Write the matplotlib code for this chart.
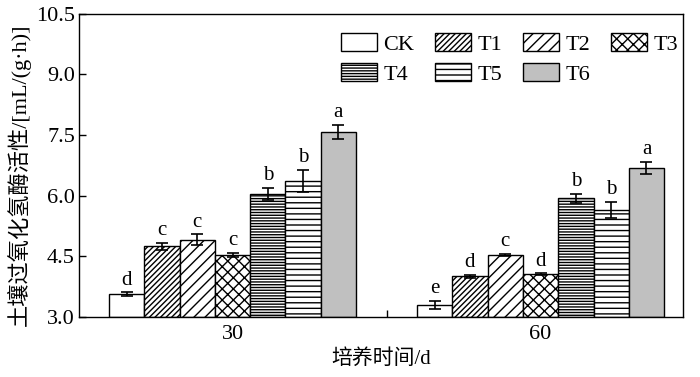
import matplotlib.pyplot as plt
import numpy as np

plt.rcParams['font.family'] = ['Liberation Serif', 'Noto Sans CJK SC']
plt.rcParams['hatch.linewidth'] = 1.0

days = ['30', '60']
treatments = ['CK', 'T1', 'T2', 'T3', 'T4', 'T5', 'T6']
vals_30 = [3.55, 4.74, 4.91, 4.53, 6.04, 6.37, 7.57]
err_30 = [0.05, 0.09, 0.13, 0.04, 0.15, 0.27, 0.18]
let_30 = ['d', 'c', 'c', 'c', 'b', 'b', 'a']
vals_60 = [3.30, 4.00, 4.53, 4.05, 5.93, 5.64, 6.68]
err_60 = [0.10, 0.03, 0.03, 0.02, 0.12, 0.20, 0.15]
let_60 = ['e', 'd', 'c', 'd', 'b', 'b', 'a']

hatches = ['', '//////', '///', 'xxx', '------', '---', '']
fills = ['white', 'white', 'white', 'white', 'white', 'white', '#c0c0c0']

fig, ax = plt.subplots(figsize=(7, 3.77), dpi=100)
fig.subplots_adjust(left=0.113, right=0.976, top=0.963, bottom=0.16)

w = 0.1146
x = np.arange(len(days))
bars = []
for i, t in enumerate(treatments):
    pos = x + (i - 3) * w
    v = [vals_30[i], vals_60[i]]
    e = [err_30[i], err_60[i]]
    b = ax.bar(pos, np.array(v) - 3.0, w, bottom=3.0, color=fills[i], edgecolor='black',
               hatch=hatches[i], linewidth=1.0, label=t, zorder=2)
    bars.append(b)
    ax.errorbar(pos, v, yerr=e, fmt='none', ecolor='black', elinewidth=1.2,
                capsize=4, capthick=1.2, zorder=3)
    for p, val, er, lt in zip(pos, v, e, [let_30[i], let_60[i]]):
        ax.text(p, val + er + 0.07, lt, ha='center', va='bottom', fontsize=15)

ax.set_ylim(3.0, 10.5)
yt = np.arange(3.0, 10.6, 1.5)
ax.set_yticks(yt)
ax.set_yticklabels(['%.1f' % t for t in yt])
ax.set_xlim(-0.498, 1.463)
ax.set_xticks(x)
ax.set_xticklabels(days)
ax.set_xticks([0.5], minor=True)
ax.tick_params(axis='x', which='major', length=0, labelsize=16, pad=6)
ax.tick_params(axis='x', which='minor', direction='in', length=5, width=1)
ax.tick_params(axis='y', direction='in', length=5, width=1, labelsize=16, pad=3)
for s in ax.spines.values():
    s.set_linewidth(1.0)

ax.set_xlabel('培养时间/d', fontsize=15, labelpad=4)
ax.set_ylabel('土壤过氧化氢酶活性/[mL/(g·h)]', fontsize=16, labelpad=3)
ax.yaxis.set_label_coords(-0.08, 0.47)

# row-wise legend order for a 4-column legend
order = [0, 4, 1, 5, 2, 6, 3]
ax.legend([bars[k] for k in order], [treatments[k] for k in order], ncol=4,
          loc='upper right', bbox_to_anchor=(1.025, 1.003), frameon=False,
          fontsize=16, handlelength=1.6, handleheight=0.85, columnspacing=0.95,
          handletextpad=0.3, labelspacing=0.4)

fig.savefig('out.png', dpi=100)
